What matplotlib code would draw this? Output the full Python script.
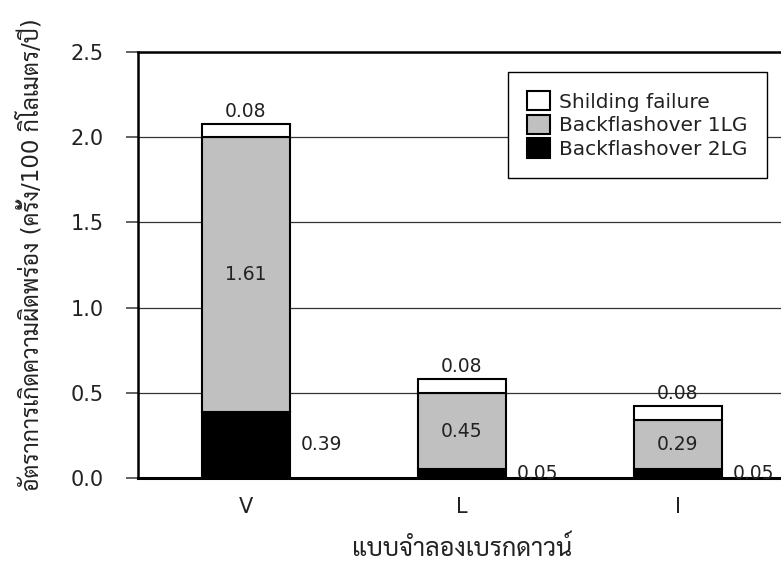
import matplotlib
matplotlib.use("Agg")
import matplotlib.pyplot as plt
from matplotlib import font_manager as fm
from matplotlib.patches import Patch
import numpy as np

# Fault rates per breakdown model (times / 100 km / year)
models = ["V", "L", "I"]
backflash_2lg = [0.39, 0.05, 0.05]
backflash_1lg = [1.61, 0.45, 0.29]
shielding_failure = [0.08, 0.08, 0.08]

series_names = ["Shilding failure", "Backflashover 1LG", "Backflashover 2LG"]
y_ticks = [0.0, 0.5, 1.0, 1.5, 2.0, 2.5]

ylabel_text = "อัตราการเกิดความผิดพร่อง (ครั้ง/100 กิโลเมตร/ปี)"
xlabel_text = "แบบจำลองเบรกดาวน์"

# Pick an installed family that carries Thai glyphs
installed = {f.name for f in fm.fontManager.ttflist}
thai_font = next((n for n in ["Sarabun", "Noto Sans Thai", "Noto Sans Thai Looped",
                              "Bai Jamjuree", "Athiti", "Kanit"] if n in installed),
                 "DejaVu Sans")
text_family = ["DejaVu Sans", thai_font]
plt.rcParams["font.family"] = text_family

W, H = 781, 563
fig = plt.figure(figsize=(W / 100, H / 100), dpi=100)
ax = fig.add_axes([138 / W, (H - 478) / H, (786 - 138) / W, (478 - 52) / H])

x = np.arange(len(models))
bw = 0.403
edge_kw = dict(edgecolor="black", linewidth=1.5, zorder=3)

b2 = np.array(backflash_2lg)
b1 = np.array(backflash_1lg)
sf = np.array(shielding_failure)

ax.bar(x, b2, bw, color="black", **edge_kw)
ax.bar(x, b1, bw, bottom=b2, color="#c0c0c0", **edge_kw)
ax.bar(x, sf, bw, bottom=b2 + b1, color="white", **edge_kw)

val_fs = 13.5
txt_color = "#222222"
for i in range(len(models)):
    top = b2[i] + b1[i] + sf[i]
    ax.annotate(f"{sf[i]:.2f}", xy=(x[i], top), xytext=(0, 9),
                textcoords="offset points", ha="center", va="center",
                fontsize=val_fs, color=txt_color, zorder=5)
    ax.text(x[i], b2[i] + b1[i] / 2, f"{b1[i]:.2f}", ha="center", va="center",
            fontsize=val_fs, color=txt_color, zorder=5)
    ax.annotate(f"{b2[i]:.2f}", xy=(x[i] + bw / 2, b2[i] / 2), xytext=(8, 0),
                textcoords="offset points", ha="left", va="center",
                fontsize=val_fs, color=txt_color, zorder=5)

ax.set_xlim(-0.5, 2.5)
ax.set_ylim(0, 2.5)
ax.set_yticks(y_ticks)
ax.set_yticklabels([f"{t:.1f}" for t in y_ticks])
ax.set_xticks(x)
ax.set_xticklabels(models)

ax.yaxis.grid(True, color="#333333", linewidth=0.9)
ax.set_axisbelow(True)

ax.spines["right"].set_visible(False)
ax.spines["top"].set_linewidth(1.8)
ax.spines["left"].set_linewidth(1.8)
ax.spines["bottom"].set_linewidth(2.2)
for s in ("top", "left", "bottom"):
    ax.spines[s].set_color("black")

ax.tick_params(axis="y", direction="out", length=8.6, width=1.3, color="#555555",
               pad=16, labelsize=15, labelcolor=txt_color)
ax.tick_params(axis="x", length=0, pad=14, labelsize=15, labelcolor=txt_color)

fig.text(30 / W, (H - 255) / H, ylabel_text, rotation=90, ha="center", va="center",
         fontsize=16.5, color=txt_color)
fig.text(462 / W, (H - 548) / H, xlabel_text, ha="center", va="center",
         fontsize=18, color=txt_color)

handles = [
    Patch(facecolor="white", edgecolor="black", linewidth=1.5),
    Patch(facecolor="#c0c0c0", edgecolor="black", linewidth=1.5),
    Patch(facecolor="black", edgecolor="black", linewidth=1.5),
]
leg = ax.legend(handles, series_names, loc="upper right",
                bbox_to_anchor=(767 / W, (H - 72) / H), bbox_transform=fig.transFigure,
                borderaxespad=0, fontsize=14.5, handlelength=1.15, handleheight=1.1,
                labelspacing=0.15, handletextpad=0.45, borderpad=0.95,
                fancybox=False, framealpha=1, edgecolor="black")
leg.get_frame().set_linewidth(1.0)
for t in leg.get_texts():
    t.set_color(txt_color)

fig.savefig("out.png", dpi=100)
